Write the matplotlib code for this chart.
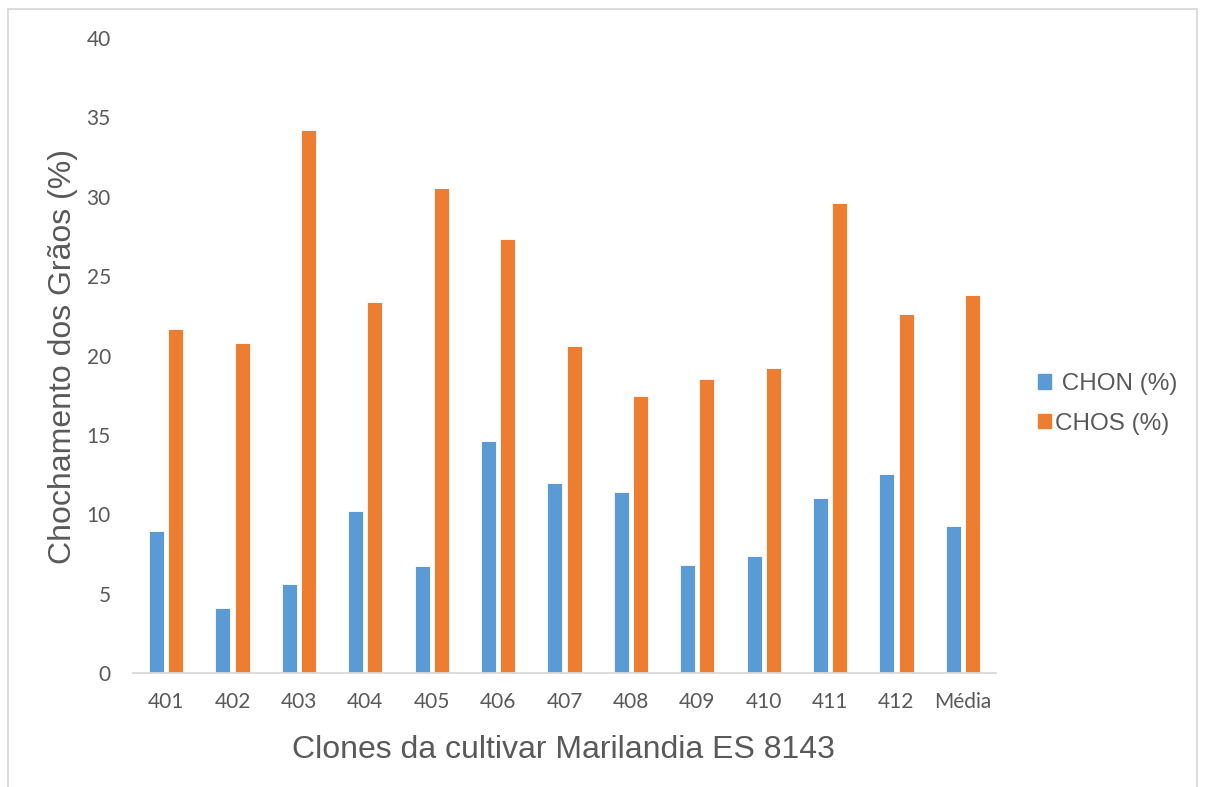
import matplotlib
matplotlib.use("Agg")
from matplotlib import pyplot as plt
from matplotlib.patches import Rectangle, Patch
import numpy as np

clones = ['401', '402', '403', '404', '405', '406', '407', '408', '409', '410', '411', '412', 'Média']
chon = [8.92, 4.10, 5.60, 10.20, 6.71, 14.64, 11.96, 11.40, 6.79, 7.34, 11.01, 12.51, 9.27]
chos = [21.64, 20.80, 34.20, 23.40, 30.52, 27.31, 20.57, 17.46, 18.50, 19.22, 29.63, 22.63, 23.81]
yticks = [0, 5, 10, 15, 20, 25, 30, 35, 40]

BLUE = '#5B9BD5'
ORANGE = '#ED7D31'
GREY = '#595959'

fig = plt.figure(figsize=(12.05, 7.87), dpi=100)
ax = fig.add_axes([133 / 1205, 1 - 673 / 787, 863 / 1205, 635 / 787])

x = np.arange(len(clones))
w = 0.226
ax.bar(x - 0.1445, chon, w, color=BLUE, edgecolor='white', linewidth=0.6)
ax.bar(x + 0.1445, chos, w, color=ORANGE, edgecolor='white', linewidth=0.6)

ax.set_xlim(-0.5, len(clones) - 0.5)
ax.set_ylim(0, 40)
ax.set_yticks(yticks)
ax.set_xticks(x)
ax.set_xticklabels(clones)

for s in ['top', 'right', 'left']:
    ax.spines[s].set_visible(False)
ax.spines['bottom'].set_color('#d9d9d9')
ax.spines['bottom'].set_linewidth(1.3)
ax.tick_params(length=0, colors=GREY, labelsize=15)
ax.tick_params(axis='x', pad=14)
ax.tick_params(axis='y', pad=16)
for lab in ax.get_xticklabels() + ax.get_yticklabels():
    lab.set_family('Lato')

ax.set_ylabel('Chochamento dos Grãos (%)', fontsize=23, color=GREY, family='Liberation Sans')
ax.yaxis.set_label_coords((63 - 133) / 863, (673 - 356) / 635)
ax.yaxis.label.set_verticalalignment('center')
ax.set_xlabel('Clones da cultivar Marilandia ES 8143', fontsize=23, color=GREY, family='Liberation Sans')
ax.xaxis.set_label_coords((563 - 133) / 863, (673 - 750) / 635)
ax.xaxis.label.set_verticalalignment('center')

handles = [Patch(color=BLUE), Patch(color=ORANGE)]
ax.legend(handles, [' CHON (%)', 'CHOS (%)'], loc='center left',
          bbox_to_anchor=(1016 / 1205, 1 - 404 / 787), bbox_transform=fig.transFigure,
          frameon=False, prop={'family': 'Liberation Sans', 'size': 17.5},
          labelcolor=GREY, handlelength=0.54, handleheight=0.54, handletextpad=0.15,
          labelspacing=0.72)

fig.patches.append(Rectangle((8 / 1205, -0.05), 1189 / 1205, 1 - 9 / 787 + 0.05,
                             transform=fig.transFigure, fill=False,
                             edgecolor='#d9d9d9', linewidth=1.3))

fig.savefig('out.png', dpi=100)
